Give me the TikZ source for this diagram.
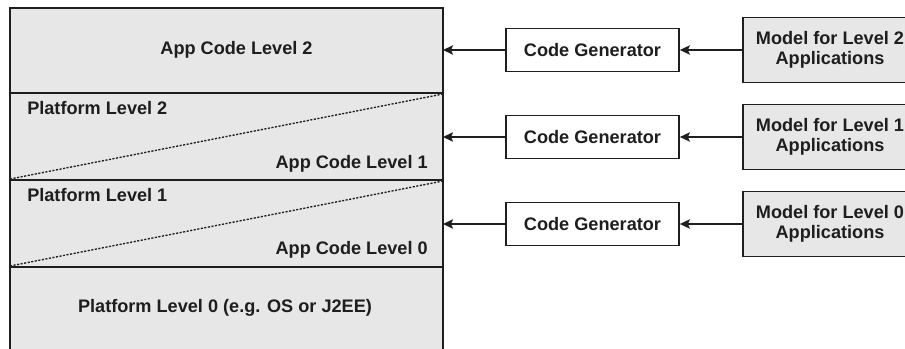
\documentclass[tikz,border=0pt]{standalone}
\usepackage{fontspec}
\setmainfont{Liberation Sans}
\usetikzlibrary{arrows.meta}

\definecolor{layergray}{RGB}{231,231,231}
\definecolor{inkgray}{RGB}{30,30,30}

\tikzset{
  layer/.style={draw=inkgray, line width=1.5pt, fill=layergray},
  split/.style={draw=inkgray, line width=1pt, dash pattern={on 1.6pt off 1.1pt}},
  lbl/.style={inner sep=0.75pt, text=inkgray, font=\bfseries\fontsize{13.6}{15}\selectfont},
  gen/.style={lbl, draw=inkgray, line width=1.3pt, fill=white, minimum width=129.75pt, minimum height=32.25pt},
  model/.style={lbl, draw=inkgray, line width=1.3pt, fill=layergray, align=center, minimum width=130.5pt, minimum height=48.75pt},
  conn/.style={draw=inkgray, line width=1.3pt, -{Stealth[length=7.5pt,width=7pt,inset=1.5pt]}}
}

\begin{document}
\begin{tikzpicture}[x=0.75pt,y=0.75pt,yscale=-1,xscale=1]
  \clip (0,0) rectangle (905,349);
  % stacked layers on the left
  \draw [layer] (10,8) rectangle (443,93);
  \draw [layer] (10,93) rectangle (443,180);
  \draw [layer] (10,180) rectangle (443,267);
  \draw [layer] (10,267) rectangle (443,370);
  \draw [split] (10,179) -- (443,94);
  \draw [split] (10,266) -- (443,181);

  \node [lbl] (app2) at (236.5,50) {App Code Level 2};
  \node [lbl, anchor=west] (plat2) at (26,108) {Platform Level 2};
  \node [lbl, anchor=east] (app1) at (429,164) {App Code Level 1};
  \node [lbl, anchor=west] (plat1) at (26,195) {Platform Level 1};
  \node [lbl, anchor=east] (app0) at (429,250) {App Code Level 0};
  \node [lbl] (plat0) at (225,308) {Platform Level 0 (e.g. OS or J2EE)};

  % entry points on the right side of the stack
  \coordinate (in2) at (443,50);
  \coordinate (in1) at (443,137);
  \coordinate (in0) at (443,224);

  % generators and models
  \node [gen] (gen2) at (592.5,50) {Code Generator};
  \node [gen] (gen1) at (592.5,137) {Code Generator};
  \node [gen] (gen0) at (592.5,224) {Code Generator};

  \node [model] (mod2) at (830,50) {Model for Level 2\\Applications};
  \node [model] (mod1) at (830,137) {Model for Level 1\\Applications};
  \node [model] (mod0) at (830,224) {Model for Level 0\\Applications};

  \draw [conn] (mod2) -- (gen2);
  \draw [conn] (mod1) -- (gen1);
  \draw [conn] (mod0) -- (gen0);
  \draw [conn] (gen2) -- (in2);
  \draw [conn] (gen1) -- (in1);
  \draw [conn] (gen0) -- (in0);
\end{tikzpicture}
\end{document}
